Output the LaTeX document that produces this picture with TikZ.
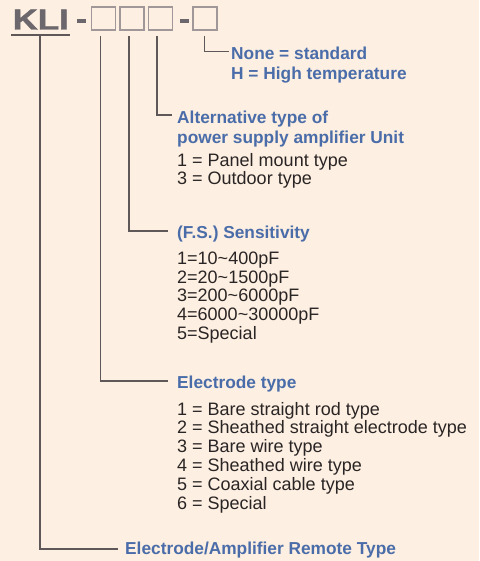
\documentclass[tikz,border=0pt]{standalone}
\usepackage{fontspec}
\setmainfont{Liberation Sans}
\newfontfamily\klifont[FakeBold=1.5]{Liberation Sans Bold}
\definecolor{bgc}{HTML}{FDEFE1}
\definecolor{bluec}{HTML}{4A6DAA}
\definecolor{txtc}{HTML}{2A2525}
\definecolor{linec}{HTML}{5F5858}
\definecolor{boxc}{HTML}{A09898}
\definecolor{klic}{HTML}{6C676D}
\tikzset{
  codebox/.style={draw=boxc, line width=1.5pt, minimum width=24pt, minimum height=23pt, inner sep=0pt},
  dashbox/.style={fill=klic, minimum width=9pt, minimum height=4pt, inner sep=0pt},
  conn/.style={draw=linec, line width=1.3pt},
  head/.style={anchor=base west, inner sep=0pt, text=bluec, align=left, font=\fontsize{17.3}{19.5}\selectfont\bfseries},
  items/.style={anchor=base west, inner sep=0pt, text=txtc, align=left, font=\fontsize{18}{18.8}\selectfont},
}
\begin{document}
\begin{tikzpicture}[x=1pt,y=-1pt]
\fill[bgc] (0,0) rectangle (479,561);
\useasboundingbox (0,0) rectangle (479,561);
% code line
\node[anchor=base west, inner sep=0pt, text=klic, font=\fontsize{29}{29}\klifont] (kli) at (12.5,29.5) {\scalebox{1.2}[1]{KLI}};
\coordinate (ul1) at (11,35);
\coordinate (ul2) at (70,35);
\draw[conn] (ul1) -- (ul2);
\node[dashbox] (d1) at (81.5,21) {};
\node[codebox] (b1) at (103.4,18.7) {};
\node[codebox] (b2) at (132.2,18.7) {};
\node[codebox] (b3) at (160.5,18.7) {};
\node[dashbox] (d2) at (184.5,21) {};
\node[codebox] (b4) at (205,18.7) {};
% texts (anchored at the baseline of their last line)
\node[head] (t4) at (231,79.3) {None = standard\\H = High temperature};
\node[head] (t3) at (177,143.2) {Alternative type of\\power supply amplifier Unit};
\node[items] (l3) at (177,185) {1 = Panel mount type\\3 = Outdoor type};
\node[head] (t2) at (177,238.5) {(F.S.) Sensitivity};
\node[items] (l2) at (177,339.5) {1=10\textasciitilde 400pF\\2=20\textasciitilde 1500pF\\3=200\textasciitilde 6000pF\\4=6000\textasciitilde 30000pF\\5=Special};
\node[head] (t1) at (177,388.5) {Electrode type};
\node[items] (l1) at (177,509) {1 = Bare straight rod type\\2 = Sheathed straight electrode type\\3 = Bare wire type\\4 = Sheathed wire type\\5 = Coaxial cable type\\6 = Special};
\node[head] (t0) at (125,554.5) {Electrode/Amplifier Remote Type};
% connectors
\coordinate (e4) at (228.5,51.7);
\coordinate (e3) at (172,115);
\coordinate (e2) at (168,231);
\coordinate (e1) at (168,381);
\coordinate (e0) at (118,549);
\draw[conn] ([xshift=-0.7pt,yshift=-5pt]b4.south) |- (e4);
\draw[conn] ([xshift=-3.5pt,yshift=-5pt]b3.south) |- (e3);
\draw[conn] ([xshift=-3.2pt,yshift=-5pt]b2.south) |- (e2);
\draw[conn] ([xshift=-2.6pt,yshift=-5pt]b1.south) |- (e1);
\draw[conn] ([xshift=-0.8pt]kli.south |- ul1) |- (e0);
\end{tikzpicture}
\end{document}
